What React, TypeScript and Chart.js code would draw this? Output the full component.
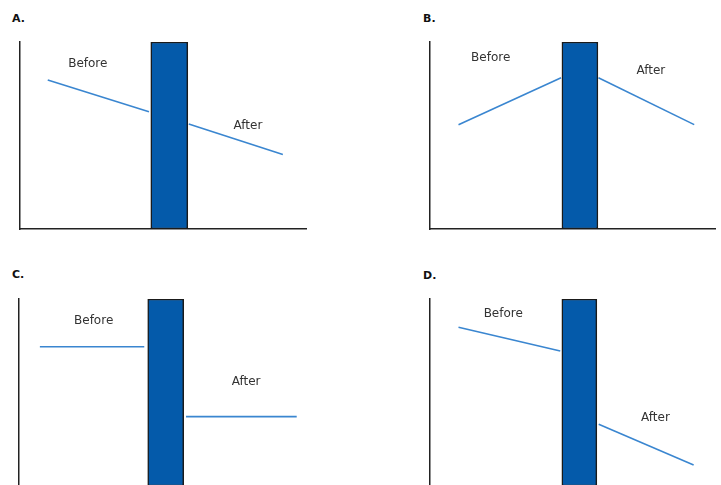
import React, { useEffect, useRef } from "react";
import { Chart, registerables } from "chart.js";

Chart.register(...registerables);

// ---- data (values in 0..100 units of each panel's axes) ----
const panelLetters = ["A.", "B.", "C.", "D."];
const lineLabels = ["Before", "After"];
const barCenter = [52.2, 52.6, 51.3, 52.4];
const barHeight = [100, 100, 100, 100];
const beforeX = [[9.7, 45.1], [10.0, 46.0], [7.3, 43.8], [10.0, 45.7]];
const beforeY = [[79.7, 62.7], [55.8, 80.9], [74.5, 74.5], [84.9, 72.2]];
const afterX = [[59.0, 91.9], [59.1, 92.7], [58.4, 97.1], [59.2, 92.5]];
const afterY = [[56.1, 39.9], [80.9, 55.8], [37.1, 37.1], [33.0, 11.2]];
const beforeLabelAt = [[23.7, 88.1], [21.3, 91.4], [26.1, 88.2], [25.7, 91.8]];
const afterLabelAt = [[79.7, 55.2], [77.5, 84.7], [79.4, 55.6], [79.1, 36.5]];

// ---- layout (pixels) ----
const layouts = [
  { left: 0, top: 30, w: 320, h: 210, pad: { left: 20, top: 12, right: 14, bottom: 11 }, bar: 37, letter: { left: 12, top: 12 } },
  { left: 410, top: 30, w: 311, h: 210, pad: { left: 20, top: 12, right: 6, bottom: 11 }, bar: 36, letter: { left: 423, top: 12 } },
  { left: 0, top: 280, w: 320, h: 220, pad: { left: 19, top: 19, right: 15, bottom: 14 }, bar: 36, letter: { left: 12, top: 268 } },
  { left: 410, top: 280, w: 311, h: 220, pad: { left: 20, top: 19, right: 6, bottom: 14 }, bar: 35, letter: { left: 423, top: 269 } },
];

const LINE_COLOR = "#3a86d0";
const BAR_COLOR = "#045aaa";
const AXIS_COLOR = "#222222";
const TEXT_FONT = '12px "DejaVu Sans", Verdana, sans-serif';

const labelPlugin = {
  id: "beforeAfterLabels",
  afterDatasetsDraw(chart: any, _args: any, opts: any) {
    const { ctx, scales } = chart;
    const i = opts.panel;
    const items = [
      { text: lineLabels[0], at: beforeLabelAt[i] },
      { text: lineLabels[1], at: afterLabelAt[i] },
    ];
    ctx.save();
    ctx.font = TEXT_FONT;
    ctx.fillStyle = "#333333";
    ctx.textAlign = "center";
    ctx.textBaseline = "middle";
    for (const it of items) {
      ctx.fillText(it.text, scales.x.getPixelForValue(it.at[0]), scales.y.getPixelForValue(it.at[1]));
    }
    ctx.restore();
  },
};

function Panel({ i }: { i: number }) {
  const ref = useRef<HTMLCanvasElement | null>(null);
  const L = layouts[i];
  useEffect(() => {
    if (!ref.current) return;
    const axis = {
      type: "linear" as const,
      min: 0,
      max: 100,
      offset: false,
      ticks: { display: false },
      grid: { display: false, drawTicks: false, offset: false },
      border: { display: true, color: AXIS_COLOR, width: 1.5 },
    };
    const chart = new Chart(ref.current, {
      type: "bar",
      data: {
        datasets: [
          {
            type: "line" as const,
            label: lineLabels[0],
            data: beforeX[i].map((x, k) => ({ x, y: beforeY[i][k] })),
            borderColor: LINE_COLOR,
            borderWidth: 1.6,
            pointRadius: 0,
            fill: false,
            tension: 0,
          },
          {
            type: "line" as const,
            label: lineLabels[1],
            data: afterX[i].map((x, k) => ({ x, y: afterY[i][k] })),
            borderColor: LINE_COLOR,
            borderWidth: 1.6,
            pointRadius: 0,
            fill: false,
            tension: 0,
          },
          {
            type: "bar" as const,
            label: "bar",
            data: [{ x: barCenter[i], y: barHeight[i] }],
            backgroundColor: BAR_COLOR,
            borderColor: "#1a1a1a",
            borderWidth: 1.5,
            borderSkipped: false,
            barThickness: L.bar,
          },
        ] as any,
      },
      options: {
        responsive: false,
        animation: false,
        layout: { padding: L.pad },
        scales: { x: axis, y: axis },
        plugins: {
          legend: { display: false },
          tooltip: { enabled: false },
          title: { display: false },
          beforeAfterLabels: { panel: i },
        } as any,
      },
      plugins: [labelPlugin],
    });
    return () => chart.destroy();
  }, [i]);
  return (
    <>
      <div
        style={{
          position: "absolute",
          left: L.letter.left,
          top: L.letter.top,
          font: 'bold 11px "DejaVu Sans", Verdana, sans-serif',
          lineHeight: "13px",
          color: "#111",
        }}
      >
        {panelLetters[i]}
      </div>
      <canvas
        ref={ref}
        width={L.w}
        height={L.h}
        style={{ position: "absolute", left: L.left, top: L.top, width: L.w, height: L.h }}
      />
    </>
  );
}

export default function App() {
  return (
    <div
      style={{
        position: "fixed",
        left: 0,
        top: 0,
        width: 721,
        height: 485,
        overflow: "hidden",
        background: "#ffffff",
      }}
    >
      {[0, 1, 2, 3].map((i) => (
        <Panel key={i} i={i} />
      ))}
    </div>
  );
}
